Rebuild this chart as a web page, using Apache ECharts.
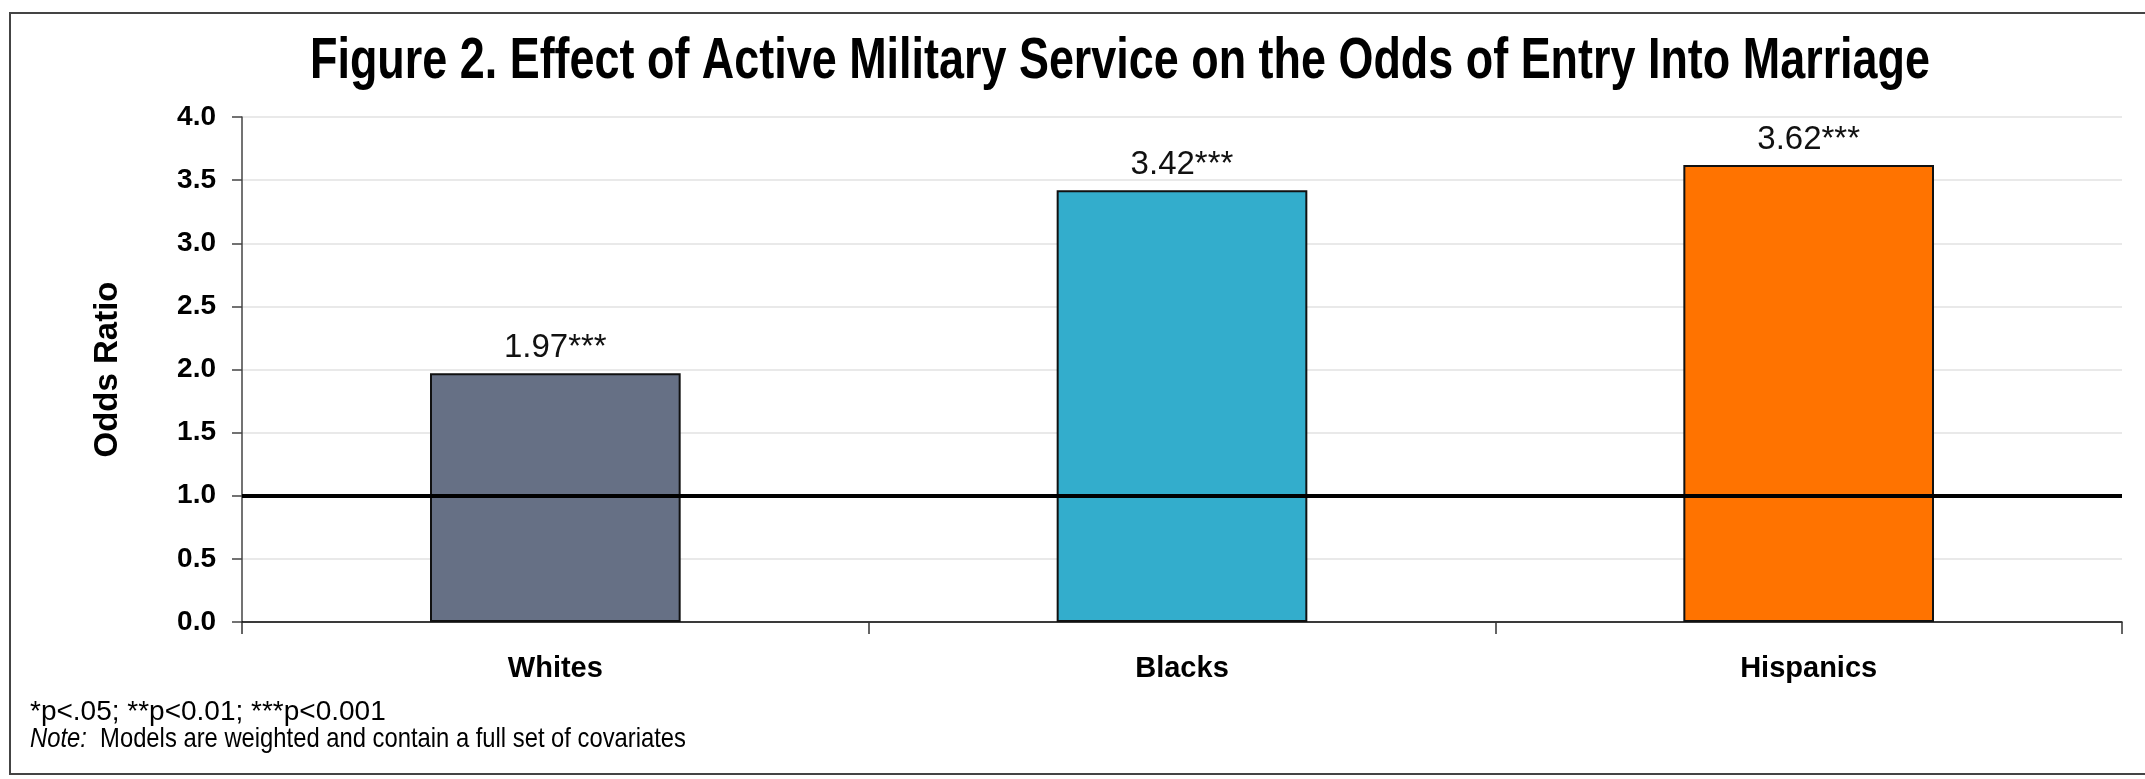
<!DOCTYPE html>
<html lang="en">
<head>
<meta charset="UTF-8">
<title>Figure 2</title>
<script src="https://cdn.jsdelivr.net/npm/echarts@6/dist/echarts.min.js"></script>
<style>
  body { margin: 0; background: #fff; }
  #main { width: 2145px; height: 779px; }
</style>
</head>
<body>
<div id="main"></div>
<script>
// chart data
var categories = ['Whites', 'Blacks', 'Hispanics'];
var oddsRatios = [1.97, 3.42, 3.62];
var stars = ['***', '***', '***'];
var yTicks = [0, 0.5, 1.0, 1.5, 2.0, 2.5, 3.0, 3.5, 4.0];
var refLine = 1.0;

var titleText = 'Figure 2. Effect of Active Military Service on the Odds of Entry Into Marriage';
var sigNote = '*p<.05; **p<0.01; ***p<0.001';
var covNote = 'Models are weighted and contain a full set of covariates';

var palette = ['#667085', '#33adcc', '#ff7300'];

var sans = '"Liberation Sans", Arial, sans-serif';

// the original uses a condensed face, so squeeze some texts to its width
function fitScale(txt, font, target) {
  var ctx = document.createElement('canvas').getContext('2d');
  ctx.font = font;
  return target / ctx.measureText(txt).width;
}
var titleFont = 'bold 58px ' + sans;
var titleScale = fitScale(titleText, titleFont, 1620);
var noteFont = '28px ' + sans;
var noteScale = fitScale('Note:  ' + covNote, noteFont, 656);

var chart = echarts.init(document.getElementById('main'));

var option = {
  backgroundColor: '#fff',
  animation: false,
  textStyle: { fontFamily: sans },
  grid: { left: 242, right: 23, top: 117, bottom: 157 },
  xAxis: {
    type: 'category',
    data: categories,
    axisLine: { lineStyle: { color: '#000', width: 1.5 } },
    axisTick: { show: true, length: 12, lineStyle: { color: '#333', width: 1.5 } },
    axisLabel: { color: '#000', fontSize: 29, fontWeight: 'bold', margin: 32 }
  },
  yAxis: {
    type: 'value',
    min: yTicks[0],
    max: yTicks[yTicks.length - 1],
    interval: 0.5,
    name: 'Odds Ratio',
    nameLocation: 'middle',
    nameGap: 118,
    nameTextStyle: { color: '#000', fontSize: 33, fontWeight: 'bold' },
    axisLine: { show: true, lineStyle: { color: '#444', width: 1.5 } },
    axisTick: { show: true, length: 10, lineStyle: { color: '#444', width: 1.5 } },
    axisLabel: {
      color: '#000', fontSize: 28, fontWeight: 'bold', margin: 26,
      formatter: function (v) { return v.toFixed(1); }
    },
    splitLine: { show: true, lineStyle: { color: '#e2e2e2', width: 1.5 } }
  },
  series: [{
    type: 'bar',
    data: oddsRatios,
    barWidth: '40%',
    itemStyle: {
      color: function (p) { return palette[p.dataIndex]; },
      borderColor: '#111',
      borderWidth: 2
    },
    label: {
      show: true,
      position: 'top',
      distance: 9,
      color: '#111',
      fontSize: 33,
      formatter: function (p) { return p.value.toFixed(2) + stars[p.dataIndex]; }
    },
    markLine: {
      silent: true,
      symbol: 'none',
      label: { show: false },
      lineStyle: { color: '#000', width: 4, type: 'solid' },
      data: [{ yAxis: refLine }]
    }
  }],
  graphic: [
    {
      type: 'rect',
      z: -1,
      shape: { x: 10, y: 13, width: 2160, height: 761 },
      style: { fill: 'none', stroke: '#444', lineWidth: 2 }
    },
    {
      type: 'text',
      x: 1120,
      y: 62,
      scaleX: titleScale,
      style: {
        text: titleText,
        font: titleFont,
        fill: '#000',
        align: 'center',
        verticalAlign: 'middle'
      }
    },
    {
      type: 'text',
      x: 30,
      y: 712,
      style: {
        text: sigNote,
        font: '28px ' + sans,
        fill: '#000',
        verticalAlign: 'middle'
      }
    },
    {
      type: 'text',
      x: 30,
      y: 739,
      scaleX: noteScale,
      style: {
        text: '{i|Note:}  ' + covNote,
        font: noteFont,
        fill: '#000',
        verticalAlign: 'middle',
        rich: {
          i: { fontStyle: 'italic', fontSize: 28, fontFamily: sans, fill: '#000' }
        }
      }
    }
  ]
};

chart.setOption(option);
</script>
</body>
</html>
